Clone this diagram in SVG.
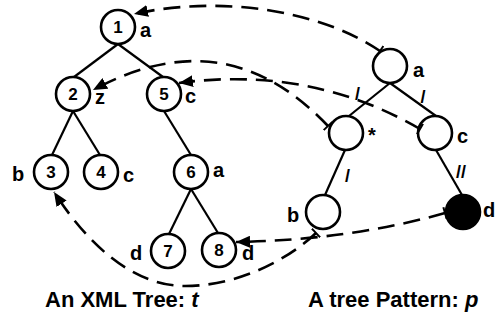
<svg xmlns="http://www.w3.org/2000/svg" width="496" height="322" viewBox="0 0 496 322">
  <style>
    .node { fill: #fff; stroke: #000; stroke-width: 2.6; }
    .fill { fill: #000; stroke: #000; stroke-width: 2.6; }
    .edge { stroke: #000; stroke-width: 2.2; fill: none; }
    .link { stroke: #000; stroke-width: 2.6; fill: none; stroke-dasharray: 17 9; }
    .num { font-family: "Liberation Sans", Arial, sans-serif; font-weight: bold; font-size: 17px; text-anchor: middle; fill: #000; }
    .lbl { font-family: "Liberation Sans", Arial, sans-serif; font-weight: bold; font-size: 20px; fill: #000; }
    .axis { font-family: "Liberation Sans", Arial, sans-serif; font-weight: bold; font-size: 18px; text-anchor: middle; fill: #000; }
    .cap { font-family: "Liberation Sans", Arial, sans-serif; font-weight: bold; font-size: 22px; fill: #000; }
  </style>
  <defs>
    <marker id="arrow" markerUnits="userSpaceOnUse" markerWidth="16" markerHeight="12" refX="14" refY="6" orient="auto">
      <path d="M0,0 L14,6 L0,12 z" fill="#000"/>
    </marker>
    <marker id="tick" markerUnits="userSpaceOnUse" markerWidth="4" markerHeight="12" refX="2" refY="6" orient="auto">
      <path d="M2,0 V12" stroke="#000" stroke-width="2"/>
    </marker>
  </defs>

  <!-- tree edges -->
  <g id="tree-edges">
    <line class="edge" x1="118" y1="44" x2="74" y2="77"/>
    <line class="edge" x1="118" y1="44" x2="163" y2="77"/>
    <line class="edge" x1="73" y1="111" x2="52" y2="155"/>
    <line class="edge" x1="73" y1="111" x2="100" y2="155"/>
    <line class="edge" x1="164" y1="111" x2="191" y2="155"/>
    <line class="edge" x1="191" y1="189" x2="169" y2="234"/>
    <line class="edge" x1="191" y1="189" x2="218" y2="233"/>
  </g>

  <!-- pattern edges with axis marks -->
  <g id="pattern-edges">
    <line class="edge" x1="390" y1="83" x2="349" y2="116"/>
    <line class="edge" x1="390" y1="83" x2="436" y2="116"/>
    <line class="edge" x1="345" y1="150" x2="325" y2="195"/>
    <line class="edge" x1="436" y1="150" x2="462" y2="195"/>
    <text class="axis" x="357.5" y="100">/</text>
    <text class="axis" x="423" y="103">/</text>
    <text class="axis" x="347.5" y="182">/</text>
    <text class="axis" x="461" y="178">//</text>
  </g>

  <!-- XML tree nodes -->
  <g id="t1"><circle class="node" cx="118" cy="27" r="17"/><text class="num" x="118" y="33">1</text><text class="lbl" x="140" y="37">a</text></g>
  <g id="t2"><circle class="node" cx="73" cy="94" r="17"/><text class="num" x="73" y="100">2</text><text class="lbl" x="95" y="104">z</text></g>
  <g id="t5"><circle class="node" cx="164" cy="94" r="17"/><text class="num" x="164" y="100">5</text><text class="lbl" x="185" y="103">c</text></g>
  <g id="t3"><circle class="node" cx="51" cy="172" r="17"/><text class="num" x="51" y="178">3</text><text class="lbl" x="12" y="181">b</text></g>
  <g id="t4"><circle class="node" cx="101" cy="172" r="17"/><text class="num" x="101" y="178">4</text><text class="lbl" x="123" y="182">c</text></g>
  <g id="t6"><circle class="node" cx="191" cy="172" r="17"/><text class="num" x="191" y="178">6</text><text class="lbl" x="213" y="177">a</text></g>
  <g id="t7"><circle class="node" cx="168" cy="251" r="17"/><text class="num" x="168" y="257">7</text><text class="lbl" x="130" y="260">d</text></g>
  <g id="t8"><circle class="node" cx="219" cy="250" r="17"/><text class="num" x="219" y="256">8</text><text class="lbl" x="242" y="260">d</text></g>

  <!-- tree pattern nodes -->
  <g id="pa"><circle class="node" cx="390" cy="66" r="17"/><text class="lbl" x="413" y="77">a</text></g>
  <g id="pstar"><circle class="node" cx="346" cy="133" r="17"/><text class="lbl" x="368" y="142">*</text></g>
  <g id="pc"><circle class="node" cx="435" cy="133" r="17"/><text class="lbl" x="457" y="143">c</text></g>
  <g id="pb"><circle class="node" cx="323" cy="212" r="17"/><text class="lbl" x="287" y="222">b</text></g>
  <g id="pd"><circle class="fill" cx="463" cy="212" r="17"/><text class="lbl" x="483" y="217">d</text></g>

  <!-- matching links from pattern to tree -->
  <g id="links">
    <path class="link" marker-start="url(#tick)" marker-end="url(#arrow)" d="M380 51 C320 10 220 -5 134 14"/>
    <path class="link" marker-start="url(#tick)" marker-end="url(#arrow)" d="M328 126 C270 65 195 35 93 90"/>
    <path class="link" marker-start="url(#tick)" marker-end="url(#arrow)" d="M420 129 C370 100 290 68 179 83"/>
    <path class="link" marker-start="url(#tick)" marker-end="url(#arrow)" d="M316 233 C290 258 240 286 185 286 C130 286 85 240 54 192"/>
    <path class="link" marker-start="url(#tick)" marker-end="url(#arrow)" d="M445 213 Q350 240 236 242"/>
  </g>

  <!-- captions -->
  <text class="cap" x="45" y="307">An XML Tree: <tspan font-style="italic">t</tspan></text>
  <text class="cap" x="308" y="307">A tree Pattern: <tspan font-style="italic">p</tspan></text>
</svg>
